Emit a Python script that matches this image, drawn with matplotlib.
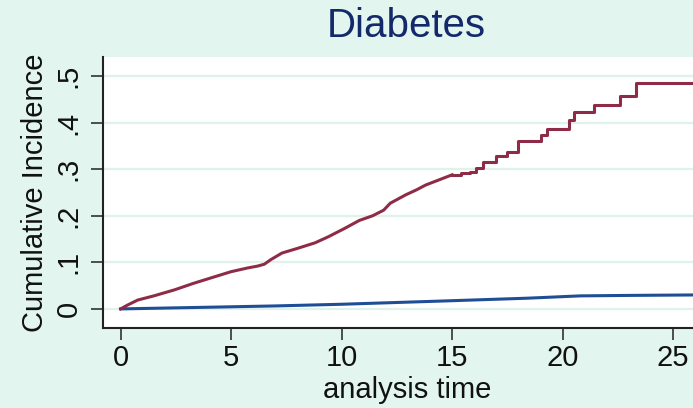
import matplotlib
matplotlib.use("Agg")
import matplotlib.pyplot as plt

# ---- data ----
title = "Diabetes"
xlabel = "analysis time"
ylabel = "Cumulative Incidence"
x_ticks = [0, 5, 10, 15, 20, 25]
y_ticks = [0, 0.1, 0.2, 0.3, 0.4, 0.5]
y_tick_labels = ["0", ".1", ".2", ".3", ".4", ".5"]

# early part of the red curve (dense small steps, drawn as a line)
red_time_early = [0, 0.3, 0.77, 1.5, 2.44, 3.3, 4.25, 5.0, 5.75, 6.2, 6.5, 6.8, 7.3,
                  8.0, 8.8, 9.4, 10.1, 10.8, 11.4, 11.9, 12.2, 12.9, 13.4, 13.8,
                  14.4, 15.0]
red_ci_early = [0, 0.008, 0.019, 0.028, 0.041, 0.055, 0.069, 0.080, 0.088, 0.092,
                0.096, 0.106, 0.120, 0.130, 0.142, 0.155, 0.172, 0.190, 0.200,
                0.212, 0.227, 0.245, 0.256, 0.266, 0.277, 0.288]
# later part of the red curve (visible steps)
red_time_late = [15.0, 15.4, 15.8, 16.1, 16.4, 17.0, 17.5, 18.0, 19.0, 19.3, 20.3,
                 20.5, 21.4, 22.6, 23.3, 26.0]
red_ci_late = [0.288, 0.291, 0.294, 0.303, 0.315, 0.328, 0.337, 0.360, 0.373,
               0.386, 0.405, 0.423, 0.438, 0.457, 0.485, 0.485]

blue_time = [0, 3.3, 7.0, 10.0, 14.6, 18.4, 20.8, 23.0, 26.0]
blue_ci = [0, 0.003, 0.0064, 0.010, 0.017, 0.023, 0.028, 0.029, 0.030]

# ---- style ----
bg = "#e2f5ee"
red = "#8e2c48"
blue = "#1f4e96"
navy = "#13296b"

plt.rcParams["font.family"] = ["Liberation Sans", "DejaVu Sans"]

fig = plt.figure(figsize=(6.93, 4.08), dpi=100, facecolor=bg)
ax = fig.add_axes([103 / 693, 80 / 408, 1 - 103 / 693, 271 / 408])
ax.set_facecolor("white")

for yt in y_ticks:
    ax.axhline(yt, color="#dff2ec", lw=1.6, zorder=0)

ax.plot(blue_time, blue_ci, color=blue, lw=2.2, zorder=3)
ax.plot(red_time_early, red_ci_early, color=red, lw=2.2, zorder=3)
ax.plot(red_time_late, red_ci_late, color=red, lw=2.2, drawstyle="steps-post", zorder=3)

ax.set_xlim(-0.8, 25.9)
ax.set_ylim(-0.041, 0.541)

ax.set_xticks(x_ticks)
ax.set_yticks(y_ticks)
ax.set_yticklabels(y_tick_labels, rotation=90, va="center")

for s in ["top", "right"]:
    ax.spines[s].set_visible(False)
for s in ["left", "bottom"]:
    ax.spines[s].set_color("#222222")
    ax.spines[s].set_linewidth(1.5)

ax.tick_params(axis="both", length=8.5, width=1.1, color="#222222",
               labelsize=21, labelcolor="#111111")
ax.tick_params(axis="x", pad=3)
ax.tick_params(axis="y", pad=6)

ax.set_ylabel(ylabel, fontsize=21, color="#111111", labelpad=4)

fig.text(407 / 693, (408 - 398) / 408, xlabel, fontsize=21, color="#111111",
         ha="center", va="baseline")
fig.text(406 / 693, 371 / 408, title, fontsize=29, color=navy, ha="center", va="baseline")

fig.savefig("out.png", dpi=100, facecolor=bg)
